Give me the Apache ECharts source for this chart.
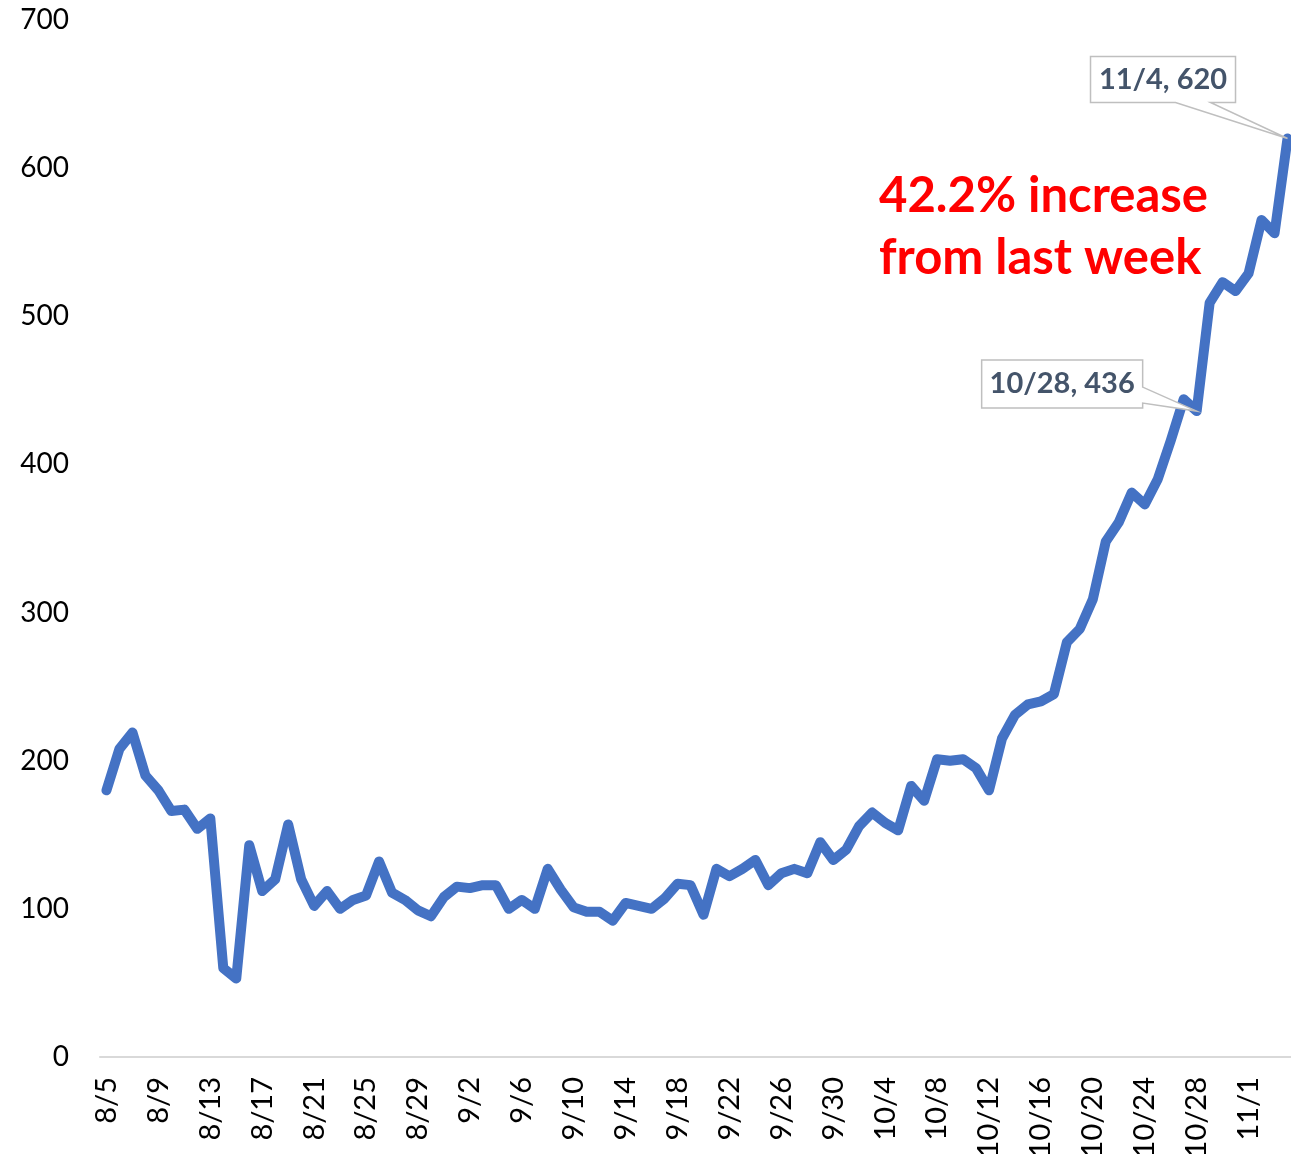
<!DOCTYPE html>
<html>
<head>
<meta charset="utf-8">
<script src="https://cdn.jsdelivr.net/npm/echarts@6/dist/echarts.min.js"></script>
<style>
  html, body { margin: 0; padding: 0; background: #fff; }
  #chart { width: 1291px; height: 1154px; }
</style>
</head>
<body>
<div id="chart"></div>
<script>
	'use strict';

	var dates = [
		'8/5', '8/6', '8/7', '8/8', '8/9', '8/10', '8/11', '8/12', '8/13', '8/14', '8/15', '8/16', '8/17', '8/18',
		'8/19', '8/20', '8/21', '8/22', '8/23', '8/24', '8/25', '8/26', '8/27', '8/28', '8/29', '8/30', '8/31',
		'9/1', '9/2', '9/3', '9/4', '9/5', '9/6', '9/7', '9/8', '9/9', '9/10', '9/11', '9/12', '9/13', '9/14',
		'9/15', '9/16', '9/17', '9/18', '9/19', '9/20', '9/21', '9/22', '9/23', '9/24', '9/25', '9/26', '9/27',
		'9/28', '9/29', '9/30', '10/1', '10/2', '10/3', '10/4', '10/5', '10/6', '10/7', '10/8', '10/9', '10/10',
		'10/11', '10/12', '10/13', '10/14', '10/15', '10/16', '10/17', '10/18', '10/19', '10/20', '10/21', '10/22',
		'10/23', '10/24', '10/25', '10/26', '10/27', '10/28', '10/29', '10/30', '10/31', '11/1', '11/2', '11/3', '11/4'
	];
	var cases = [
		180, 208, 219, 190, 180, 166, 167, 154, 161, 60, 53, 143, 112, 120,
		157, 120, 102, 112, 100, 106, 109, 132, 111, 106, 99, 95, 108,
		115, 114, 116, 116, 100, 106, 100, 127, 113, 101, 98, 98, 92, 104,
		102, 100, 107, 117, 116, 96, 127, 122, 127, 133, 116, 124, 127,
		124, 145, 133, 140, 156, 165, 158, 153, 183, 173, 201, 200, 201,
		195, 180, 215, 231, 238, 240, 245, 280, 289, 309, 348, 361,
		381, 373, 390, 416, 444, 436, 509, 523, 517, 529, 565, 556, 620
	];
	var yMin = 0, yMax = 700, yStep = 100;
	var calloutDays = ['10/28', '11/4'];
	var noteLines = ['42.2% increase', 'from last week'];

	var chart = echarts.init(document.getElementById('chart'));
	var option = {
		animation: false,
		grid: {
			top: 20,
			right: -3,
			bottom: 97,
			left: 100,
			containLabel: false,
			outerBoundsMode: 'none'
		},
		xAxis: {
			type: 'category',
			data: dates,
			boundaryGap: true,
			axisLine: {
				lineStyle: {
					color: '#d9d9d9',
					width: 2
				}
			},
			axisTick: { show: false },
			axisLabel: {
				interval: 3,
				rotate: 90,
				margin: 20,
				fontSize: 29,
				fontFamily: 'Lato',
				color: '#000'
			}
		},
		yAxis: {
			type: 'value',
			min: yMin,
			max: yMax,
			interval: yStep,
			splitLine: { show: false },
			axisLine: { show: false },
			axisTick: { show: false },
			axisLabel: {
				margin: 31,
				fontSize: 28,
				fontFamily: 'Lato',
				color: '#000'
			}
		},
		series: [{
			type: 'line',
			data: cases,
			showSymbol: false,
			symbol: 'none',
			lineStyle: {
				color: '#4472c4',
				width: 10,
				cap: 'round',
				join: 'round'
			}
		}]
	};
	chart.setOption(option);

	// callouts and the red note, placed from the axis scales
	function calloutShape(p, pts, label, box) {
		var poly = pts.map(function (q) { return [p[0] + q[0], p[1] + q[1]]; });
		return [{
			type: 'polygon',
			shape: { points: poly },
			style: { fill: '#fff', stroke: '#bfbfbf', lineWidth: 1.5 },
			z: 10
		}, {
			type: 'text',
			x: p[0] + (box[0] + box[1]) / 2,
			y: p[1] + (box[2] + box[3]) / 2,
			style: {
				text: label,
				fill: '#44546a',
				font: 'bold 29px Lato',
				align: 'center',
				verticalAlign: 'middle'
			},
			z: 11
		}];
	}

	var i1 = dates.indexOf(calloutDays[0]);
	var i2 = dates.indexOf(calloutDays[1]);
	var p1 = chart.convertToPixel({ gridIndex: 0 }, [i1, cases[i1]]);
	var p2 = chart.convertToPixel({ gridIndex: 0 }, [i2, cases[i2]]);

	var els = [];
	els = els.concat(calloutShape(p1,
		[[-215, -51], [-54, -51], [-54, -24], [0, 0], [-54, -8], [-54, -3], [-215, -3]],
		calloutDays[0] + ', ' + cases[i1], [-215, -54, -51, -3]));
	els = els.concat(calloutShape(p2,
		[[-197, -82], [-52, -82], [-52, -36], [-77, -36], [0, 0], [-112, -36], [-197, -36]],
		calloutDays[1] + ', ' + cases[i2], [-197, -52, -82, -36]));

	els.push({
		type: 'text',
		x: 879,
		y: 196,
		style: {
			text: noteLines[0],
			fill: '#ff0000',
			font: 'bold 49px Lato',
			align: 'left',
			verticalAlign: 'middle'
		},
		z: 12
	});
	els.push({
		type: 'text',
		x: 879,
		y: 258,
		style: {
			text: noteLines[1],
			fill: '#ff0000',
			font: 'bold 49px Lato',
			align: 'left',
			verticalAlign: 'middle'
		},
		z: 12
	});

	chart.setOption({ graphic: { elements: els } });

	window.addEventListener('resize', function () {
		chart.resize();
	});
</script>
</body>
</html>
